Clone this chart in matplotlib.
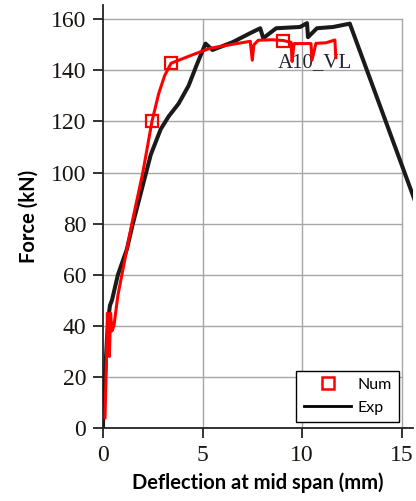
import numpy as np
import matplotlib
matplotlib.use("Agg")
import matplotlib.pyplot as plt
from matplotlib.lines import Line2D

# experimental curve (deflection mm, force kN)
exp_x = [0.0, 0.02, 0.1, 0.2, 0.3, 0.35, 0.45, 0.6, 0.75, 1.2, 1.5, 2.0, 2.4, 2.9,
         3.3, 3.8, 4.3, 4.7, 5.15, 5.5, 6.5, 7.4, 7.9, 8.05, 8.7, 9.9, 10.25, 10.3,
         10.75, 11.56, 12.4, 16.0]
exp_y = [0.0, 10.0, 20.0, 35.0, 45.0, 48.0, 50.0, 55.0, 60.0, 70.0, 80.0, 95.0, 107.0, 117.0,
         122.0, 127.0, 134.0, 142.0, 150.5, 148.0, 151.0, 154.6, 156.5, 152.6, 156.5, 157.0, 158.5, 153.0,
         156.5, 157.0, 158.3, 82.0]

# numerical curve
num_x = [0.1, 0.17, 0.22, 0.27, 0.32, 0.38, 0.45, 0.55, 0.75, 1.0, 1.45, 2.0, 2.46, 2.8,
         3.1, 3.42, 4.2, 4.87, 5.4, 6.5, 7.4, 7.5, 7.58, 7.8, 8.5, 9.05, 9.45, 9.5,
         9.6, 10.45, 10.5, 10.7, 11.2, 11.65, 11.7]
num_y = [4.0, 25.0, 45.0, 38.0, 28.0, 45.0, 38.0, 40.0, 52.0, 62.0, 80.0, 100.0, 120.0, 131.0,
         138.0, 142.8, 145.2, 147.2, 148.7, 150.2, 151.4, 144.0, 150.0, 151.8, 152.0, 151.7, 151.0, 143.5,
         150.5, 150.5, 144.0, 150.6, 150.8, 151.9, 145.0]
num_marks = [12, 15, 25]

x_ticks = [0, 5, 10, 15]
y_ticks = [0, 20, 40, 60, 80, 100, 120, 140, 160]

fig = plt.figure(figsize=(4.16, 5.01), dpi=100)
ax = fig.add_axes([0.2476, 0.1457, 0.993 - 0.2476, 0.99 - 0.1457])

# grid box 0..15 x 0..160
for xv in x_ticks[1:]:
    ax.plot([xv, xv], [0, 160], color="#a6a6a6", lw=1.0, zorder=1)
for yv in y_ticks[1:]:
    ax.plot([0, 15], [yv, yv], color="#a6a6a6", lw=1.0, zorder=1)

ax.plot(exp_x, exp_y, color="#1a1a1a", lw=2.9, zorder=3)
ax.plot(num_x, num_y, color="#ff0000", lw=2.2, zorder=4)
ax.plot([num_x[i] for i in num_marks], [num_y[i] for i in num_marks], ls="none",
        marker="s", ms=8, mfc="none", mec="#ff0000", mew=1.6, zorder=5)

ax.text(10.65, 143.2, "A10_VL", family="Liberation Serif", fontsize=15,
        color="#222233", ha="center", va="center", zorder=2)

ax.set_xlim(0, 15.58)
ax.set_ylim(0, 165.6)
ax.set_xticks(x_ticks)
ax.set_yticks(y_ticks)
for s in ["top", "right"]:
    ax.spines[s].set_visible(False)
for s in ["left", "bottom"]:
    ax.spines[s].set_linewidth(1.3)
    ax.spines[s].set_color("#222222")
ax.tick_params(direction="out", length=7, width=1.3, color="#222222", pad=5,
               labelsize=17, labelcolor="#1a1410")
for lab in ax.get_xticklabels() + ax.get_yticklabels():
    lab.set_family("Liberation Serif")

ax.set_xlabel("Deflection at mid span (mm)", family="Lato", fontweight="bold",
              fontsize=14.5, labelpad=5)
ax.set_ylabel("Force (kN)", family="Lato", fontweight="bold", fontsize=14.5, labelpad=9)

handles = [Line2D([], [], ls="none", marker="s", ms=8, mfc="none", mec="#ff0000", mew=1.8),
           Line2D([], [], color="black", lw=2)]
leg = ax.legend(handles, ["Num", "Exp"], loc="lower right", bbox_to_anchor=(0.953, 0.014),
                prop={"family": "Lato", "size": 11.5}, frameon=True, fancybox=False,
                edgecolor="black", framealpha=1, handlelength=3.0, borderpad=0.45,
                labelspacing=0.55, handletextpad=0.35, borderaxespad=0)
leg.get_frame().set_linewidth(1.0)

fig.savefig("out.png", dpi=100)
